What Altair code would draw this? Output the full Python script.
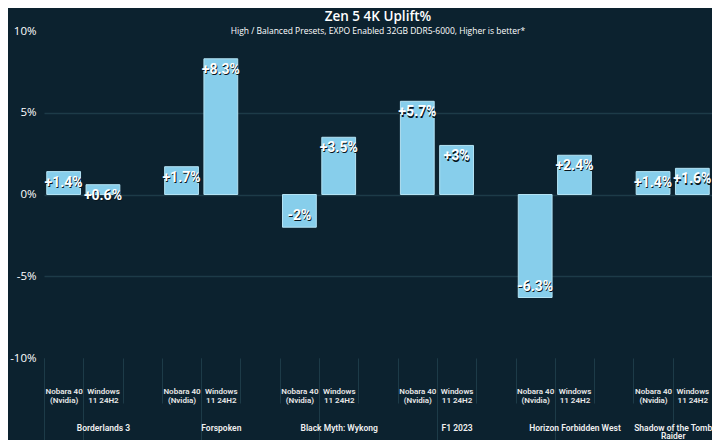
import json
import altair as alt
import pandas as pd

# ---- data ----
games = ["Borderlands 3", "Forspoken", "Black Myth: Wykong", "F1 2023",
         "Horizon Forbidden West", "Shadow of the Tomb Raider"]
game_lines = [["Borderlands 3"], ["Forspoken"], ["Black Myth: Wykong"], ["F1 2023"],
              ["Horizon Forbidden West"], ["Shadow of the Tomb", "Raider"]]
system_lines = [["Nobara 40", "(Nvidia)"], ["Windows", "11 24H2"]]
nobara = [1.4, 1.7, -2.0, 5.7, -6.3, 1.4]
windows = [0.6, 8.3, 3.5, 3.0, 2.4, 1.6]
labels_nobara = ["+1.4%", "+1.7%", "-2%", "+5.7%", "-6.3%", "+1.4%"]
labels_windows = ["+0.6%", "+8.3%", "+3.5%", "+3%", "+2.4%", "+1.6%"]
y_ticks = [-10, -5, 0, 5, 10]

TITLE = "Zen 5 4K Uplift%"
SUBTITLE = "High / Balanced Presets, EXPO Enabled 32GB DDR5-6000, Higher is better*"

# ---- styling ----
FONT = "Open Sans"
AXFONT = "Roboto"
BG = "#0c222f"
GRID = "#1d3b48"
BAR = "#87ceeb"
BAR_EDGE = "#b4e3f4"
W, H = 668, 327

# ---- table ----
n_games = len(games)
slots = []
rows = []
for gi in range(n_games):
    slots += [f"{gi}|n", f"{gi}|w"]
    if gi < n_games - 1:
        slots.append(f"{gi}|e")
    rows.append({"slot": f"{gi}|n", "v": nobara[gi], "label": labels_nobara[gi]})
    rows.append({"slot": f"{gi}|w", "v": windows[gi], "label": labels_windows[gi]})
df = pd.DataFrame(rows)

sub_expr = ("indexof('' + datum.value, '|n') >= 0 ? " + json.dumps(system_lines[0]) +
            " : (indexof('' + datum.value, '|w') >= 0 ? " + json.dumps(system_lines[1]) + " : '')")
grp_expr = "''"
for gi in reversed(range(n_games)):
    grp_expr = f"datum.value == '{gi}|w' ? {json.dumps(game_lines[gi])} : ({grp_expr})"

xscale = alt.Scale(domain=slots, paddingInner=0, paddingOuter=0)
half_band = W / len(slots) / 2

sub_axis = alt.Axis(
    title=None, orient="bottom", domain=False, grid=False, labelAngle=0,
    labelExpr=sub_expr, labelFont=AXFONT, labelFontSize=8, labelFontWeight=600,
    labelColor="#e8e8e8", labelLineHeight=9, labelPadding=-16, labelOverlap=False,
    ticks=True, tickBand="extent", tickSize=45, tickColor=GRID, tickWidth=1,
)
grp_axis = alt.Axis(
    title=None, orient="bottom", domain=False, grid=False, labelAngle=0,
    values=slots, labelExpr=grp_expr, labelFont=AXFONT, labelFontSize=8.5,
    labelFontWeight=600, labelColor="#f0f0f0", labelLineHeight=8.5,
    labelPadding=-17, labelOverlap=False,
    labelOffset={"condition": {"test": f"datum.value == '{n_games - 1}|w'", "value": -half_band}, "value": 0},
    ticks=True, tickBand="extent", tickSize=82, tickColor=GRID, tickWidth=1,
    tickOpacity={"condition": {"test": "indexof('' + datum.value, '|w') >= 0 || indexof('' + datum.value, '|e') >= 0", "value": 0}, "value": 1},
)

y_enc = alt.Y(
    "v:Q",
    scale=alt.Scale(domain=[-10, 10], nice=False),
    axis=alt.Axis(
        title=None, values=y_ticks, labelExpr="datum.value + '%'", domain=False,
        ticks=False, labelPadding=8, labelFont=FONT, labelFontSize=11.5,
        labelFontWeight=500, labelColor="white", gridColor=GRID, gridWidth=1.5,
        gridOpacity={"condition": {"test": "abs(datum.value) == 10", "value": 0}, "value": 1},
    ),
)

bars = alt.Chart(df).mark_bar(
    width={"band": 0.86}, color=BAR, stroke=BAR_EDGE, strokeWidth=1
).encode(x=alt.X("slot:N", scale=xscale, axis=sub_axis), y=y_enc)


def txt(test, dy, color, dx=0, axis=None):
    return alt.Chart(df).transform_filter(test).mark_text(
        font=AXFONT, fontSize=14, fontWeight="bold", color=color,
        baseline="middle", align="center", dy=dy, dx=dx,
    ).encode(x=alt.X("slot:N", scale=xscale, axis=axis), y=y_enc, text="label:N")


shadow_pos = txt("datum.v >= 0", 12.2, "#08151d", dx=0.8)
shadow_neg = txt("datum.v < 0", -9.8, "#08151d", dx=0.8)
text_pos = txt("datum.v >= 0", 11, "white", axis=grp_axis)
text_neg = txt("datum.v < 0", -11, "white")

chart = alt.layer(bars, shadow_pos, shadow_neg, text_pos, text_neg).resolve_axis(
    x="independent"
).properties(
    width=W,
    height=H,
    autosize=alt.AutoSizeParams(type="none"),
    padding={"left": 36, "top": 23, "right": 0, "bottom": 82},
    title=alt.TitleParams(
        text=TITLE, subtitle=SUBTITLE, font=FONT, subtitleFont=FONT,
        fontSize=13.5, subtitleFontSize=8.5, color="white", subtitleColor="white",
        fontWeight=600, subtitleFontWeight=500, anchor="middle", offset=-10,
        subtitlePadding=3,
    ),
).configure(background=BG).configure_view(stroke=None)

chart.save("out.html", embed_options={"renderer": "svg", "actions": False})
